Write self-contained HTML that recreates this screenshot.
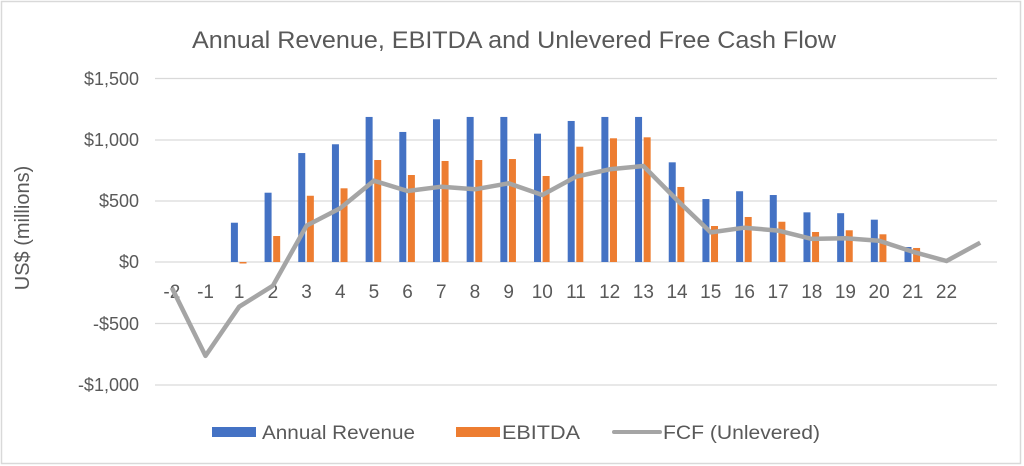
<!DOCTYPE html>
<html><head><style>body{margin:0;background:#fff}svg{display:block}</style></head><body>
<svg width="1024" height="466" xmlns="http://www.w3.org/2000/svg" font-family="Liberation Sans, Arial, sans-serif">
<rect x="1.5" y="1.5" width="1019" height="462" fill="#fff" stroke="#d9d9d9" stroke-width="1.5"/>
<text x="514" y="48" text-anchor="middle" font-size="24" fill="#595959" textLength="644" lengthAdjust="spacingAndGlyphs">Annual Revenue, EBITDA and Unlevered Free Cash Flow</text>
<g stroke="#d9d9d9" stroke-width="1.2">
<line x1="155" x2="997" y1="78.5" y2="78.5"/><line x1="155" x2="997" y1="140" y2="140"/><line x1="155" x2="997" y1="201" y2="201"/><line x1="155" x2="997" y1="262" y2="262"/><line x1="155" x2="997" y1="323.5" y2="323.5"/><line x1="155" x2="997" y1="385" y2="385"/>
</g>
<g font-size="18" fill="#595959" text-anchor="end">
<text x="139" y="85">$1,500</text><text x="139" y="146">$1,000</text><text x="139" y="207">$500</text><text x="139" y="268">$0</text><text x="139" y="330">-$500</text><text x="139" y="391">-$1,000</text>
</g>
<text transform="translate(29,228) rotate(-90)" text-anchor="middle" font-size="20" fill="#595959">US$ (millions)</text>
<g id="bars"></g>
<g font-size="19" fill="#595959" text-anchor="middle" id="xl"></g>
<polyline id="fcf" fill="none" stroke="#a5a5a5" stroke-width="4.5" stroke-linejoin="round" points=""/>
<rect x="212" y="427" width="44" height="10" fill="#4472c4"/>
<text x="262" y="439" font-size="19" fill="#595959" textLength="153" lengthAdjust="spacingAndGlyphs">Annual Revenue</text>
<rect x="456" y="427" width="44" height="10" fill="#ed7d31"/>
<text x="502" y="439" font-size="19" fill="#595959" textLength="78" lengthAdjust="spacingAndGlyphs">EBITDA</text>
<line x1="614" x2="660" y1="432" y2="432" stroke="#a5a5a5" stroke-width="4" stroke-linecap="round"/>
<text x="663" y="439" font-size="19" fill="#595959" textLength="157" lengthAdjust="spacingAndGlyphs">FCF (Unlevered)</text>
<script>
var labels=["-2","-1","1","2","3","4","5","6","7","8","9","10","11","12","13","14","15","16","17","18","19","20","21","22",""];
var rev=[0,0,322,568,893,965,1189,1066,1170,1189,1189,1052,1156,1189,1189,817,516,580,549,407,400,347,123,0,0];
var eb=[0,0,-10,213,543,604,836,713,828,836,844,705,945,1014,1022,615,295,369,330,246,260,227,115,0,0];
var f=[-210,-770,-366,-194,298,440,666,582,617,596,645,549,699,760,787,508,243,281,257,189,194,175,84,8,158];
var ns="http://www.w3.org/2000/svg",b=document.getElementById("bars"),xl=document.getElementById("xl");
function Y(v){return 262-v*61/500}
var pts=[];
for(var i=0;i<25;i++){var c=155+33.68*(i+0.5);
function bar(x,v,col){if(!v)return;var r=document.createElementNS(ns,"rect");var y0=Math.min(Y(v),262),h=Math.abs(Y(v)-262);r.setAttribute("x",x);r.setAttribute("y",y0);r.setAttribute("width",7);r.setAttribute("height",Math.max(h,1.5));r.setAttribute("fill",col);b.appendChild(r);}
bar(c-8.3,rev[i],"#4472c4");bar(c+0.3,eb[i],"#ed7d31");
var t=document.createElementNS(ns,"text");t.setAttribute("x",c);t.setAttribute("y",298);t.textContent=labels[i];xl.appendChild(t);
pts.push(c.toFixed(1)+","+Y(f[i]).toFixed(1));}
document.getElementById("fcf").setAttribute("points",pts.join(" "));
</script>
</svg>
</body></html>
